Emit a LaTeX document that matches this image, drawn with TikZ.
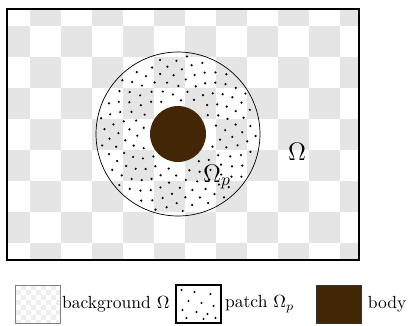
\documentclass[tikz,border=0pt]{standalone}
\usepackage{amsmath}
\usepackage{xcolor}
\usetikzlibrary{positioning}
\definecolor{checkgray}{RGB}{229,229,229}
\definecolor{checklight}{RGB}{238,238,238}
\definecolor{bodybrown}{RGB}{66,38,6}

\begin{document}
\begin{tikzpicture}[x=0.02cm,y=-0.02cm]
% Define styles
\tikzstyle{frame}=[draw=black, line width=1.2pt]
\tikzstyle{check}=[fill=checkgray]
\tikzstyle{dot}=[fill=black]
\tikzstyle{legbox}=[rectangle, minimum width=0.9cm, minimum height=0.76cm, inner sep=0pt]
\tikzstyle{legtext}=[inner sep=0.5pt]

\useasboundingbox (0,0) rectangle (415,325);

% Checkerboard background
\begin{scope}
\clip (7,9) rectangle (359,260);
\foreach \i in {0,...,11}
  \foreach \j in {0,...,8}
  {
    \pgfmathparse{int(mod(\i+\j,2))}
    \ifnum\pgfmathresult=1
      \fill[check] (-1+31*\i,-5+31*\j) rectangle ++(31,31);
    \fi
  }
\end{scope}

% Patch and body
\node[circle, draw=black, thin, minimum size=3.28cm, inner sep=0pt] (patch) at (178,134) {};
\foreach \k in {1,...,150}
{
  \pgfmathsetmacro{\ang}{360*mod(0.381966*\k,1)}
  \pgfmathsetmacro{\rad}{sqrt(1089+34.35*(\k-0.5))}
  \fill[dot] (178,134) ++(\ang:\rad) circle (0.7pt);
}
\node[circle, fill=bodybrown, minimum size=1.12cm, inner sep=0pt] (body) at (178,134) {};

% Labels
\node[font=\Large] (omega) at (297,152) {$\Omega$};
\node[font=\Large] (omegap) at (217,177) {$\Omega_p$};

% Frame
\draw[frame] (7,9) rectangle (359,260);

% Legend
\node[legbox, draw=gray, path picture={
    \foreach \a in {0,...,8}
      \foreach \b in {0,...,8}
      {
        \pgfmathparse{int(mod(\a+\b,2))}
        \ifnum\pgfmathresult=1
          \fill[checklight] (-22.5+5*\a,-19+5*\b) rectangle ++(5,5);
        \fi
      }
  }] (legbg) at (38,304) {};
\node[legtext, right=0pt of legbg] (legbgtxt) {background $\Omega$};

\node[legbox, draw=black, line width=1.2pt, path picture={
    \foreach \p in {(-17,-14),(-4,-12),(12,-10),(-10,-3),(3,-1),(15,2),
                    (-16,6),(-2,8),(9,10),(-12,14),(5,15),(17,14)}
      \fill[dot] \p circle (0.7pt);
  }] (legpatch) at (198.5,304) {};
\node[legtext, right=1pt of legpatch] (legpatchtxt) {patch $\Omega_p$};

\node[legbox, draw=black!80, fill=bodybrown] (legbody) at (338.5,304) {};
\node[legtext, right=3pt of legbody] (legbodytxt) {body};
\end{tikzpicture}
\end{document}
